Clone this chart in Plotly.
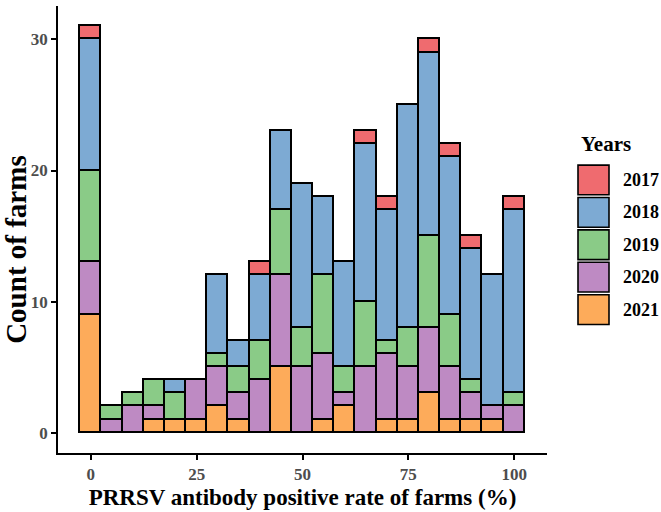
import plotly.graph_objects as go

# Bin centres (PRRSV antibody positive rate, %)
bins = [0, 5, 10, 15, 20, 25, 30, 35, 40, 45, 50, 55, 60, 65, 70, 75, 80, 85, 90, 95, 100]

# Counts of farms per bin, by year
y2021 = [9, 0, 0, 1, 1, 1, 2, 1, 0, 5, 0, 1, 2, 0, 1, 1, 3, 1, 1, 1, 0]
y2020 = [4, 1, 2, 1, 0, 3, 3, 2, 4, 7, 5, 5, 1, 5, 5, 4, 5, 4, 2, 1, 2]
y2019 = [7, 1, 1, 2, 2, 0, 1, 2, 3, 5, 3, 6, 2, 5, 1, 3, 7, 4, 1, 0, 1]
y2018 = [10, 0, 0, 0, 1, 0, 6, 2, 5, 6, 11, 6, 8, 12, 10, 17, 14, 12, 10, 10, 14]
y2017 = [1, 0, 0, 0, 0, 0, 0, 0, 1, 0, 0, 0, 0, 1, 1, 0, 1, 1, 1, 0, 1]

years = ["2017", "2018", "2019", "2020", "2021"]
colors = {"2017": "#EF6B6F", "2018": "#7DAAD3", "2019": "#8ACB87",
          "2020": "#BE8AC3", "2021": "#FDAB5A"}
series = {"2017": y2017, "2018": y2018, "2019": y2019, "2020": y2020, "2021": y2021}

x_ticks = [0, 25, 50, 75, 100]
y_ticks = [0, 10, 20, 30]

SERIF = "Liberation Serif, Times New Roman, serif"

fig = go.Figure()
for yr in ["2021", "2020", "2019", "2018", "2017"]:
    vals = [v if v > 0 else None for v in series[yr]]
    fig.add_trace(go.Bar(
        x=bins, y=vals, width=5, name=yr,
        marker=dict(color=colors[yr], line=dict(color="black", width=1.6)),
        showlegend=False,
    ))

W, H = 661, 512
ml, mr, mt, mb = 58, 114, 6, 55
pw, ph = W - ml - mr, H - mt - mb

def px(xp):
    return (xp - ml) / pw

def py(yp):
    return (H - mb - yp) / ph

shapes = []
annotations = []
# y axis title
annotations.append(dict(x=px(16), y=py(252), xref="paper", yref="paper",
                        text="<b>Count of farms</b>", showarrow=False, textangle=-90,
                        xanchor="center", yanchor="middle",
                        font=dict(family=SERIF, size=29, color="black")))
# custom legend
annotations.append(dict(x=px(579), y=py(145), xref="paper", yref="paper",
                        text="<b>Years</b>", showarrow=False, xanchor="left",
                        yanchor="middle", font=dict(family=SERIF, size=21, color="black")))
for i, yr in enumerate(years):
    top = 166.5 + 32.7 * i
    bot = top + 30
    shapes.append(dict(type="rect", xref="paper", yref="paper",
                       x0=px(578), x1=px(609), y0=py(bot), y1=py(top),
                       fillcolor=colors[yr], line=dict(color="black", width=1.6)))
    annotations.append(dict(x=px(621), y=py((top + bot) / 2), xref="paper", yref="paper",
                            text="<b>%s</b>" % yr, showarrow=False, xanchor="left",
                            yanchor="middle", font=dict(family=SERIF, size=18, color="black")))

fig.update_layout(
    width=W, height=H,
    margin=dict(l=ml, r=mr, t=mt, b=mb),
    barmode="stack", bargap=0,
    plot_bgcolor="white", paper_bgcolor="white",
    showlegend=False,
    shapes=shapes, annotations=annotations,
    xaxis=dict(range=[-7.75, 107.75], tickvals=x_ticks, ticktext=["<b>%d</b>" % v for v in x_ticks],
               showline=True, linecolor="black", linewidth=1.8, ticks="outside",
               ticklen=5, tickwidth=1.6, tickcolor="black", showgrid=False, zeroline=False,
               tickfont=dict(family=SERIF, size=17, color="#4D4D4D"),
               title=dict(text="<b>PRRSV antibody positive rate of farms (%)</b>",
                          font=dict(family=SERIF, size=23, color="black"), standoff=6)),
    yaxis=dict(range=[-1.55, 32.55], tickvals=y_ticks, ticktext=["<b>%d</b>" % v for v in y_ticks],
               showline=True, linecolor="black", linewidth=1.8, ticks="outside",
               ticklen=5, tickwidth=1.6, tickcolor="black", showgrid=False, zeroline=False,
               tickfont=dict(family=SERIF, size=17, color="#4D4D4D")),
)

fig.write_html("out.html", config={"displayModeBar": False},
               post_script="document.body.style.margin='0';document.body.style.overflow='hidden';")
